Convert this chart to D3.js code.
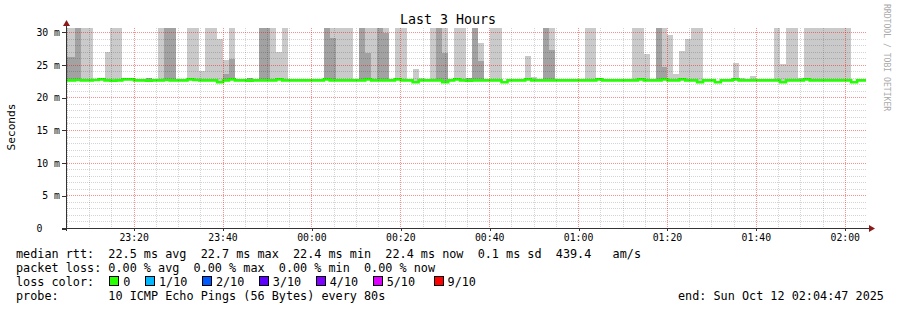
<!DOCTYPE html>
<html><head><meta charset="utf-8">
<script src="https://cdn.jsdelivr.net/npm/d3@7"></script>
<style>
html,body{margin:0;padding:0;background:#fff;}
svg{display:block;font-family:"DejaVu Sans Mono",monospace;}
text{white-space:pre;}
</style></head><body>
<svg id="chart" width="897" height="310"></svg>
<script>
// ---------- data ----------
const chartTitle = "Last 3 Hours";
const yAxisTitle = "Seconds";
const watermark = "RRDTOOL / TOBI OETIKER";
const startTime = "2025-10-11T23:04:47Z";
const endTime = "2025-10-12T02:04:47Z";
const firstStepTime = "2025-10-11T23:04:07Z";
const stepSeconds = 80;
const yMax = 30.61;
const yTickValues = [0, 5, 10, 15, 20, 25, 30];
const yTickLabels = ["0   ", "5 m", "10 m", "15 m", "20 m", "25 m", "30 m"];
const xTickLabels = ["23:20", "23:40", "00:00", "00:20", "00:40", "01:00", "01:20", "01:40", "02:00"];

// median rtt per 80 s step (ms)
const median = [
  22.6,22.6,22.65,22.6,22.6,22.65,22.75,22.6,22.55,22.6,
  22.75,22.75,22.6,22.6,22.55,22.6,22.6,22.65,22.6,22.6,
  22.6,22.75,22.65,22.6,22.6,22.6,22.3,22.6,22.75,22.6,
  22.6,22.55,22.6,22.6,22.6,22.6,22.75,22.6,22.6,22.6,
  22.6,22.6,22.6,22.6,22.75,22.6,22.6,22.6,22.6,22.6,
  22.6,22.75,22.6,22.6,22.6,22.6,22.75,22.6,22.6,22.3,
  22.6,22.6,22.6,22.6,22.3,22.6,22.75,22.6,22.55,22.6,
  22.6,22.6,22.6,22.6,22.3,22.6,22.6,22.6,22.75,22.6,
  22.6,22.6,22.6,22.6,22.6,22.6,22.6,22.6,22.6,22.6,
  22.75,22.6,22.6,22.6,22.6,22.6,22.6,22.75,22.6,22.6,
  22.6,22.75,22.6,22.6,22.75,22.6,22.6,22.3,22.6,22.6,
  22.3,22.6,22.6,22.75,22.6,22.6,22.6,22.6,22.6,22.6,
  22.6,22.3,22.6,22.6,22.6,22.75,22.6,22.6,22.6,22.6,
  22.6,22.6,22.6,22.3,22.6,22.6
];
// top of the outer (light) smoke per step, ms (0 = no smoke)
const smokeTop = [
  32,32,32,32,32,0,0,26.95,32,32,
  23.0,0,0,0,23.0,0,32,32,32,0,
  0,32,32,24.06,32,32,28.9,25.7,32,0,
  0,22.95,0,32,32,32,26.95,32,0,0,
  0,0,0,0,32,32,32,32,32,0,
  32,32,32,32,32,0,32,32,0,24.3,
  23.0,0,32,32,32,0,32,32,22.95,32,
  28.3,0,32,32,0,0,0,0,26.35,23.1,
  0,32,32,0,0,0,0,0,32,32,
  23.0,0,0,0,0,0,32,32,26.65,0,
  32,32,29.5,23.55,27.1,28.95,32,32,22.85,0,
  0,0,0,25.3,23.0,0,23.2,0,0,0,
  32,25.1,32,32,23.0,32,32,32,32,32,
  32,32,32,0,0,0
];
// top of the inner (dark) smoke per step, ms (0 = none)
const darkTop = [
  26.2,26.2,32,0,0,0,0,0,0,0,
  0,0,0,0,22.9,0,0,32,32,0,
  0,0,0,0,0,0,0,23.55,25.9,0,
  0,22.9,0,32,32,0,0,0,0,0,
  0,0,0,0,32,29.1,0,0,0,0,
  32,26.8,0,32,29.8,0,0,0,0,0,
  0,0,0,32,26.8,0,0,0,22.95,32,
  25.6,0,0,0,0,0,0,0,0,0,
  0,32,27.3,0,0,0,0,0,0,0,
  0,0,0,0,0,0,0,0,0,0,
  32,24.7,0,0,0,0,0,0,0,0,
  0,0,0,0,0,0,0,0,0,0,
  0,0,0,0,0,0,0,0,0,0,
  0,0,0,0,0,0
];

const rttLabel = "median rtt:";
const rttStats = ["22.5 ms avg", "22.7 ms max", "22.4 ms min", "22.4 ms now", "0.1 ms sd", "439.4   am/s"];
const lossLabel = "packet loss:";
const lossStats = ["0.00 % avg", "0.00 % max", "0.00 % min", "0.00 % now"];
const lossColorLabel = "loss color:";
const lossLabels = ["0", "1/10", "2/10", "3/10", "4/10", "5/10", "9/10"];
const lossColors = ["#26ff00", "#00b8ff", "#0059ff", "#5e00ff", "#7e00ff", "#dd00ff", "#ff0000"];
const probeLabel = "probe:";
const probeText = "10 ICMP Echo Pings (56 Bytes) every 80s";
const endText = "end: Sun Oct 12 02:04:47 2025";

// ---------- drawing ----------
const W = 897, H = 310;
const L = 66, R = 866, T = 28, B = 228;
const parse = d3.utcParse("%Y-%m-%dT%H:%M:%SZ");
const t0 = parse(startTime), t1 = parse(endTime), s0 = parse(firstStepTime);
const x = d3.scaleUtc().domain([t0, t1]).range([L, R]);
const y = d3.scaleLinear().domain([0, yMax]).range([B, T]);

const svg = d3.select("#chart");
svg.append("rect").attr("width", W).attr("height", H).attr("fill", "#fff");

svg.append("defs").append("clipPath").attr("id", "plotclip")
  .append("rect").attr("x", L + 1).attr("y", T).attr("width", R - L - 1).attr("height", B - T);

const steps = median.map((m, i) => ({
  a: d3.utcSecond.offset(s0, i * stepSeconds),
  b: d3.utcSecond.offset(s0, (i + 1) * stepSeconds),
  m, top: smokeTop[i], dark: darkTop[i]
}));

const plot = svg.append("g").attr("clip-path", "url(#plotclip)");
const rx = d => Math.round(x(d));
plot.selectAll("rect.light").data(steps.filter(d => d.top > 0)).join("rect")
  .attr("class", "light")
  .attr("x", d => rx(d.a)).attr("width", d => rx(d.b) - rx(d.a))
  .attr("y", d => Math.round(y(d.top))).attr("height", d => Math.max(0, Math.round(y(d.m)) - Math.round(y(d.top))))
  .attr("fill", "#cacaca").attr("shape-rendering", "crispEdges");
plot.selectAll("rect.dark").data(steps.filter(d => d.dark > 0)).join("rect")
  .attr("class", "dark")
  .attr("x", d => rx(d.a)).attr("width", d => rx(d.b) - rx(d.a))
  .attr("y", d => Math.round(y(d.dark))).attr("height", d => Math.max(0, Math.round(y(d.m)) - Math.round(y(d.dark))))
  .attr("fill", "#a2a2a2").attr("shape-rendering", "crispEdges");

// grid
const grid = svg.append("g").attr("shape-rendering", "crispEdges");
const minorX = d3.utcMinute.every(5).range(t0, t1).filter(d => d.getUTCMinutes() % 20 !== 0);
const majorX = d3.utcMinute.every(20).range(t0, t1);
const minorY = d3.range(1, 31).filter(v => v % 5 !== 0);
const majorY = yTickValues.filter(v => v > 0);
const minorCol = "rgba(0,0,0,0.17)", majorCol = "rgba(255,0,0,0.45)";
grid.selectAll("line.mx").data(minorX).join("line")
  .attr("x1", d => rx(d) + 0.5).attr("x2", d => rx(d) + 0.5).attr("y1", T).attr("y2", B)
  .attr("stroke", minorCol).attr("stroke-dasharray", "1,1");
grid.selectAll("line.my").data(minorY).join("line")
  .attr("y1", d => Math.round(y(d)) + 0.5).attr("y2", d => Math.round(y(d)) + 0.5).attr("x1", L + 1).attr("x2", R)
  .attr("stroke", minorCol).attr("stroke-dasharray", "1,1");
grid.selectAll("line.Mx").data(majorX).join("line")
  .attr("x1", d => rx(d) + 0.5).attr("x2", d => rx(d) + 0.5).attr("y1", T).attr("y2", B)
  .attr("stroke", majorCol).attr("stroke-dasharray", "1,1");
grid.selectAll("line.My").data(majorY).join("line")
  .attr("y1", d => Math.round(y(d)) + 0.5).attr("y2", d => Math.round(y(d)) + 0.5).attr("x1", L + 1).attr("x2", R)
  .attr("stroke", majorCol).attr("stroke-dasharray", "1,1");

// median line
const linePts = steps.map(d => [d.a, d.m]).concat([[steps[steps.length - 1].b, steps[steps.length - 1].m]]);
plot.append("path").datum(linePts)
  .attr("d", d3.line().x(d => x(d[0])).y(d => y(d[1])).curve(d3.curveStepAfter))
  .attr("fill", "none").attr("stroke", "#22ff00").attr("stroke-width", 2.6);

// axes
const axisColor = "#333";
const xAxis = d3.axisBottom(x).tickValues(majorX).tickFormat((d, i) => xTickLabels[i])
  .tickSize(3).tickPadding(3);
const gx = svg.append("g").attr("transform", `translate(0,${B})`).call(xAxis);
gx.select(".domain").remove();
gx.selectAll("line").attr("stroke", axisColor).attr("transform", "translate(0.5,0)").attr("shape-rendering", "crispEdges");
gx.selectAll("text").attr("font-family", "DejaVu Sans Mono").attr("font-size", "9.8px").attr("fill", "#000");

const yAxis = d3.axisLeft(y).tickValues(yTickValues).tickFormat((d, i) => yTickLabels[i])
  .tickSize(4).tickPadding(2);
const gy = svg.append("g").attr("transform", `translate(${L},0)`).call(yAxis);
gy.select(".domain").remove();
gy.selectAll("line").attr("stroke", axisColor).attr("transform", "translate(0,0.5)").attr("shape-rendering", "crispEdges");
gy.selectAll("text").attr("font-family", "DejaVu Sans Mono").attr("font-size", "9.8px").attr("fill", "#000").attr("dy", "0.37em");

svg.append("line").attr("x1", L - 4).attr("x2", R + 4).attr("y1", B + 0.5).attr("y2", B + 0.5)
  .attr("stroke", axisColor).attr("shape-rendering", "crispEdges");
svg.append("line").attr("x1", L + 0.5).attr("x2", L + 0.5).attr("y1", B + 3).attr("y2", T - 5)
  .attr("stroke", axisColor).attr("shape-rendering", "crispEdges");
const arrowColor = "#8b1a1a";
svg.append("path").attr("d", `M${L + 0.5},${T - 8} L${L - 3},${T - 2} L${L + 4},${T - 2} Z`).attr("fill", arrowColor);
svg.append("path").attr("d", `M${R + 9},${B + 0.5} L${R + 3},${B - 3} L${R + 3},${B + 4} Z`).attr("fill", arrowColor);

// title & labels
svg.append("text").attr("x", 448).attr("y", 24).attr("text-anchor", "middle")
  .attr("font-size", "13.3px").attr("fill", "#000").text(chartTitle);
svg.append("text").attr("transform", "translate(15,127) rotate(-90)").attr("text-anchor", "middle")
  .attr("font-size", "11.2px").attr("fill", "#000").text(yAxisTitle);
svg.append("text").attr("transform", "translate(884,4) rotate(90)").attr("text-anchor", "start")
  .attr("font-size", "8.1px").attr("fill", "#aaaaaa").text(watermark);

// legend
const lf = 11.8, cw = lf * 0.602, lx = 16;
const rows = [258, 272, 286, 300];
const leg = svg.append("g").attr("font-size", lf + "px").attr("fill", "#000");
leg.append("text").attr("x", lx).attr("y", rows[0]).text(rttLabel + "  " + rttStats.join("  "));
leg.append("text").attr("x", lx).attr("y", rows[1]).text(lossLabel + " " + lossStats.join("  "));
leg.append("text").attr("x", lx).attr("y", rows[2]).text(lossColorLabel);
let bx = lx + 13 * cw + 1;
const boxes = lossLabels.map((lab, i) => {
  const o = { lab, col: lossColors[i], x: bx + (i === 6 ? 4 : 0) };
  bx += 14.3 + cw * (lab.length + 2);
  return o;
});
leg.selectAll("rect.box").data(boxes).join("rect")
  .attr("x", d => Math.round(d.x) + 0.5).attr("y", rows[2] - 9.5).attr("width", 9).attr("height", 9)
  .attr("fill", d => d.col).attr("stroke", "#000").attr("stroke-width", 1);
leg.selectAll("text.boxlab").data(boxes).join("text")
  .attr("x", d => d.x + 14).attr("y", rows[2]).text(d => d.lab);
leg.append("text").attr("x", lx).attr("y", rows[3]).text(probeLabel + "       " + probeText);
leg.append("text").attr("x", 678).attr("y", rows[3]).text(endText);
</script>
</body></html>
